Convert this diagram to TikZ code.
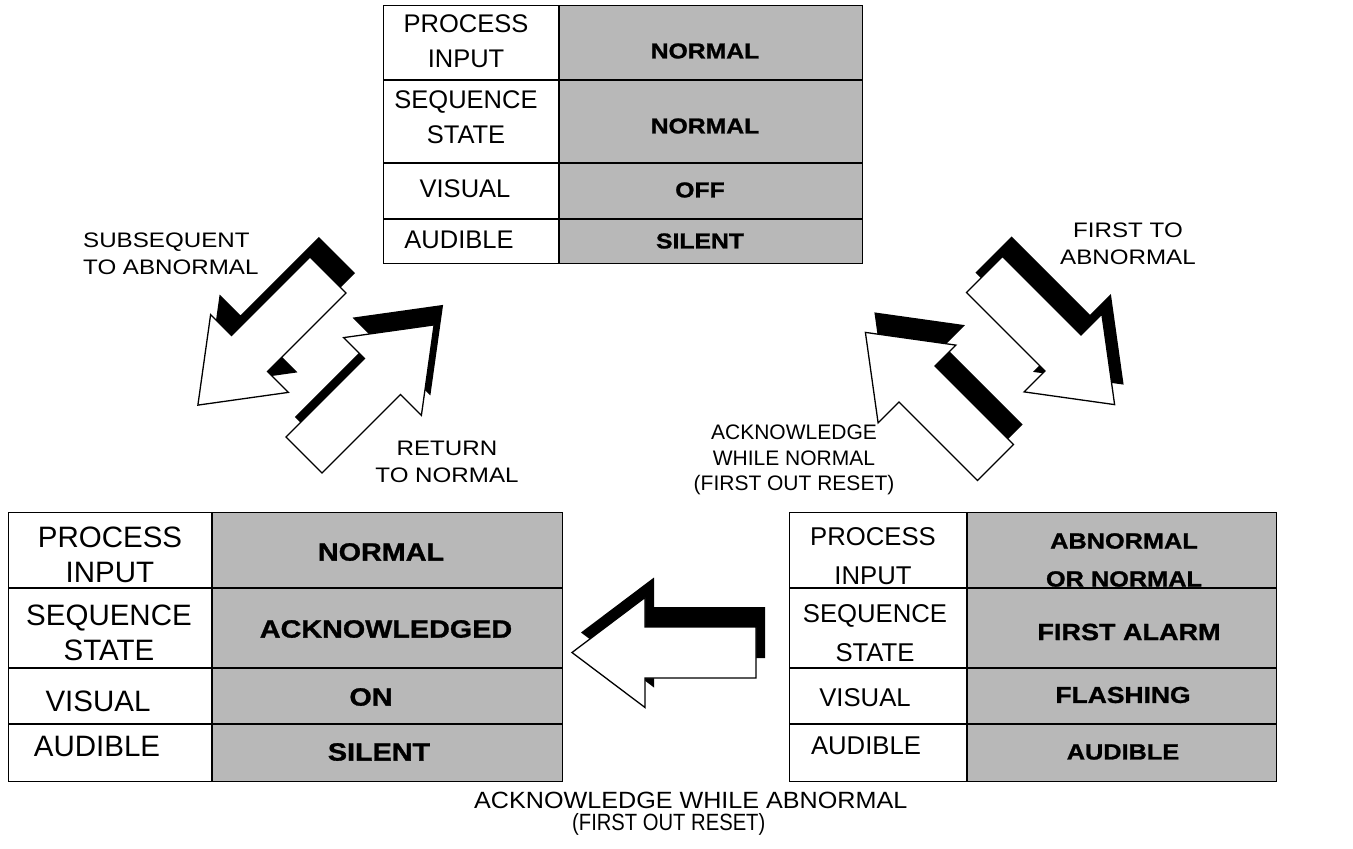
\documentclass[tikz,border=0pt]{standalone}
\usepackage{fontspec}
\setmainfont{Liberation Sans}
\newfontfamily\widesans[FakeStretch=1.15]{Liberation Sans}
\newfontfamily\notewide[FakeStretch=1.07]{Liberation Sans}
\newfontfamily\notenarrow[FakeStretch=0.86]{Liberation Sans}
\newfontfamily\valsans[FakeStretch=1.15, BoldFeatures={FakeBold=1.2}]{Liberation Sans}

% block arrow with a black drop shadow: name, tail x, tail y, direction
\newcommand\blockarrow[4]{%
  \fill[arrowshadow, shift={(#2+9,#3-20)}, rotate=#4]
    (0,-25.5) -- (111,-25.5) -- (111,-55) -- (184,0) -- (111,55) -- (111,25.5) -- (0,25.5) -- cycle;
  \draw[arrowbody, shift={(#2,#3)}, rotate=#4]
    (0,-25.5) -- (111,-25.5) -- (111,-55) -- (184,0) coordinate (#1-tip) -- (111,55) -- (111,25.5) -- (0,25.5) -- cycle;
  \coordinate (#1) at (#2,#3);
}

% state table: name, x0, x1 (column split), x2, y0, y1, y2, y3, y4
\newcommand\statetable[9]{%
  \fill[valuefill] (#3,#5) rectangle (#4,#9);
  \node[gridline, draw, rectangle, inner sep=0pt, anchor=north west,
        minimum width=#4-#2, minimum height=#9-#5] (#1) at (#2,#5) {};
  \draw[gridline] (#3,#5) -- (#3,#9);
  \draw[gridline] (#2,#6) -- (#4,#6) (#2,#7) -- (#4,#7) (#2,#8) -- (#4,#8);
}

\begin{document}
\begin{tikzpicture}[x=1pt, y=-1pt,
  gridline/.style={line width=1.4pt},
  valuefill/.style={fill=black!28},
  arrowbody/.style={fill=white, draw=black, line width=1.3pt, line join=miter},
  arrowshadow/.style={fill=black},
  keytext/.style n args={2}{font=\fontsize{#1}{#2}\selectfont, align=center, inner sep=0pt},
  valtext/.style n args={2}{font=\valsans\bfseries\fontsize{#1}{#2}\selectfont, align=center, inner sep=0pt},
  notetext/.style={font=\widesans\fontsize{21}{27}\selectfont, align=center, inner sep=0pt},
  plaintext/.style n args={2}{font=\fontsize{#1}{#2}\selectfont, align=center, inner sep=0pt},
]
\useasboundingbox (0,0) rectangle (1353,849);

% ---- tables ----
\statetable{normal}{383}{559}{862}{5}{80}{163}{219}{263}
\statetable{acked}{8}{212}{562}{512}{588}{668}{724}{781}
\statetable{alarm}{789}{967}{1276}{512}{588}{668}{724}{781}

% normal state
\node[keytext={25.5}{35}] (nk1) at (466,41) {PROCESS\\INPUT};
\node[keytext={25.5}{35}] (nk2) at (466,117) {SEQUENCE\\STATE};
\node[keytext={25.5}{35}] (nk3) at (465,189) {VISUAL};
\node[keytext={25.5}{35}] (nk4) at (459,240) {AUDIBLE};
\node[valtext={21.5}{37}] (nv1) at (705,51) {NORMAL};
\node[valtext={21.5}{37}] (nv2) at (705,126) {NORMAL};
\node[valtext={21.5}{37}] (nv3) at (700,190) {OFF};
\node[valtext={21.5}{37}] (nv4) at (700,241) {SILENT};

% acknowledged state
\node[keytext={29.5}{35}] (ak1) at (110,555) {PROCESS\\INPUT};
\node[keytext={29.5}{35}] (ak2) at (109,633) {SEQUENCE\\STATE};
\node[keytext={29.5}{35}] (ak3) at (98,701) {VISUAL};
\node[keytext={29.5}{35}] (ak4) at (97,746) {AUDIBLE};
\node[valtext={25}{37}] (av1) at (381,552) {NORMAL};
\node[valtext={25}{37}] (av2) at (386,629) {ACKNOWLEDGED};
\node[valtext={25}{37}] (av3) at (371,697) {ON};
\node[valtext={25}{37}] (av4) at (379,752) {SILENT};

% first alarm state
\node[keytext={25.7}{38.5}] (fk1) at (873,556) {PROCESS\\INPUT};
\node[keytext={25.7}{38.5}] (fk2) at (875,633) {SEQUENCE\\STATE};
\node[keytext={25.7}{38.5}] (fk3) at (865,698) {VISUAL};
\node[keytext={25.7}{38.5}] (fk4) at (866,746) {AUDIBLE};
\node[valtext={22}{38}] (fv1) at (1124,560) {ABNORMAL\\OR NORMAL};
\node[valtext={23.5}{37}] (fv2) at (1129,632) {FIRST ALARM};
\node[valtext={23}{37}] (fv3) at (1123,695) {FLASHING};
\node[valtext={22}{37}] (fv4) at (1123,752) {AUDIBLE};

% ---- transitions ----
\blockarrow{subseq}{328}{275}{225}
\blockarrow{retnorm}{304}{455}{45}
\blockarrow{firstab}{984.5}{274.5}{-45}
\blockarrow{acknorm}{995.5}{462.5}{135}
\blockarrow{ackab}{756}{652.5}{180}

% ---- transition labels ----
\node[notetext, align=left, anchor=north west] (lsubseq) at (83,233) {SUBSEQUENT\\TO ABNORMAL};
\node[notetext] (lfirstab) at (1128,244) {FIRST TO\\ABNORMAL};
\node[notetext] (lretnorm) at (447,461.5) {RETURN\\TO NORMAL};
\node[plaintext={21}{25.5}] (lacknorm) at (794,460) {ACKNOWLEDGE\\WHILE NORMAL\\(FIRST OUT RESET)};
\node[plaintext={23.5}{22}, align=left, anchor=north west] (lackab) at (474,792)
  {\notewide ACKNOWLEDGE WHILE ABNORMAL\\\hspace*{98pt}\notenarrow(FIRST OUT RESET)};
\end{tikzpicture}
\end{document}
